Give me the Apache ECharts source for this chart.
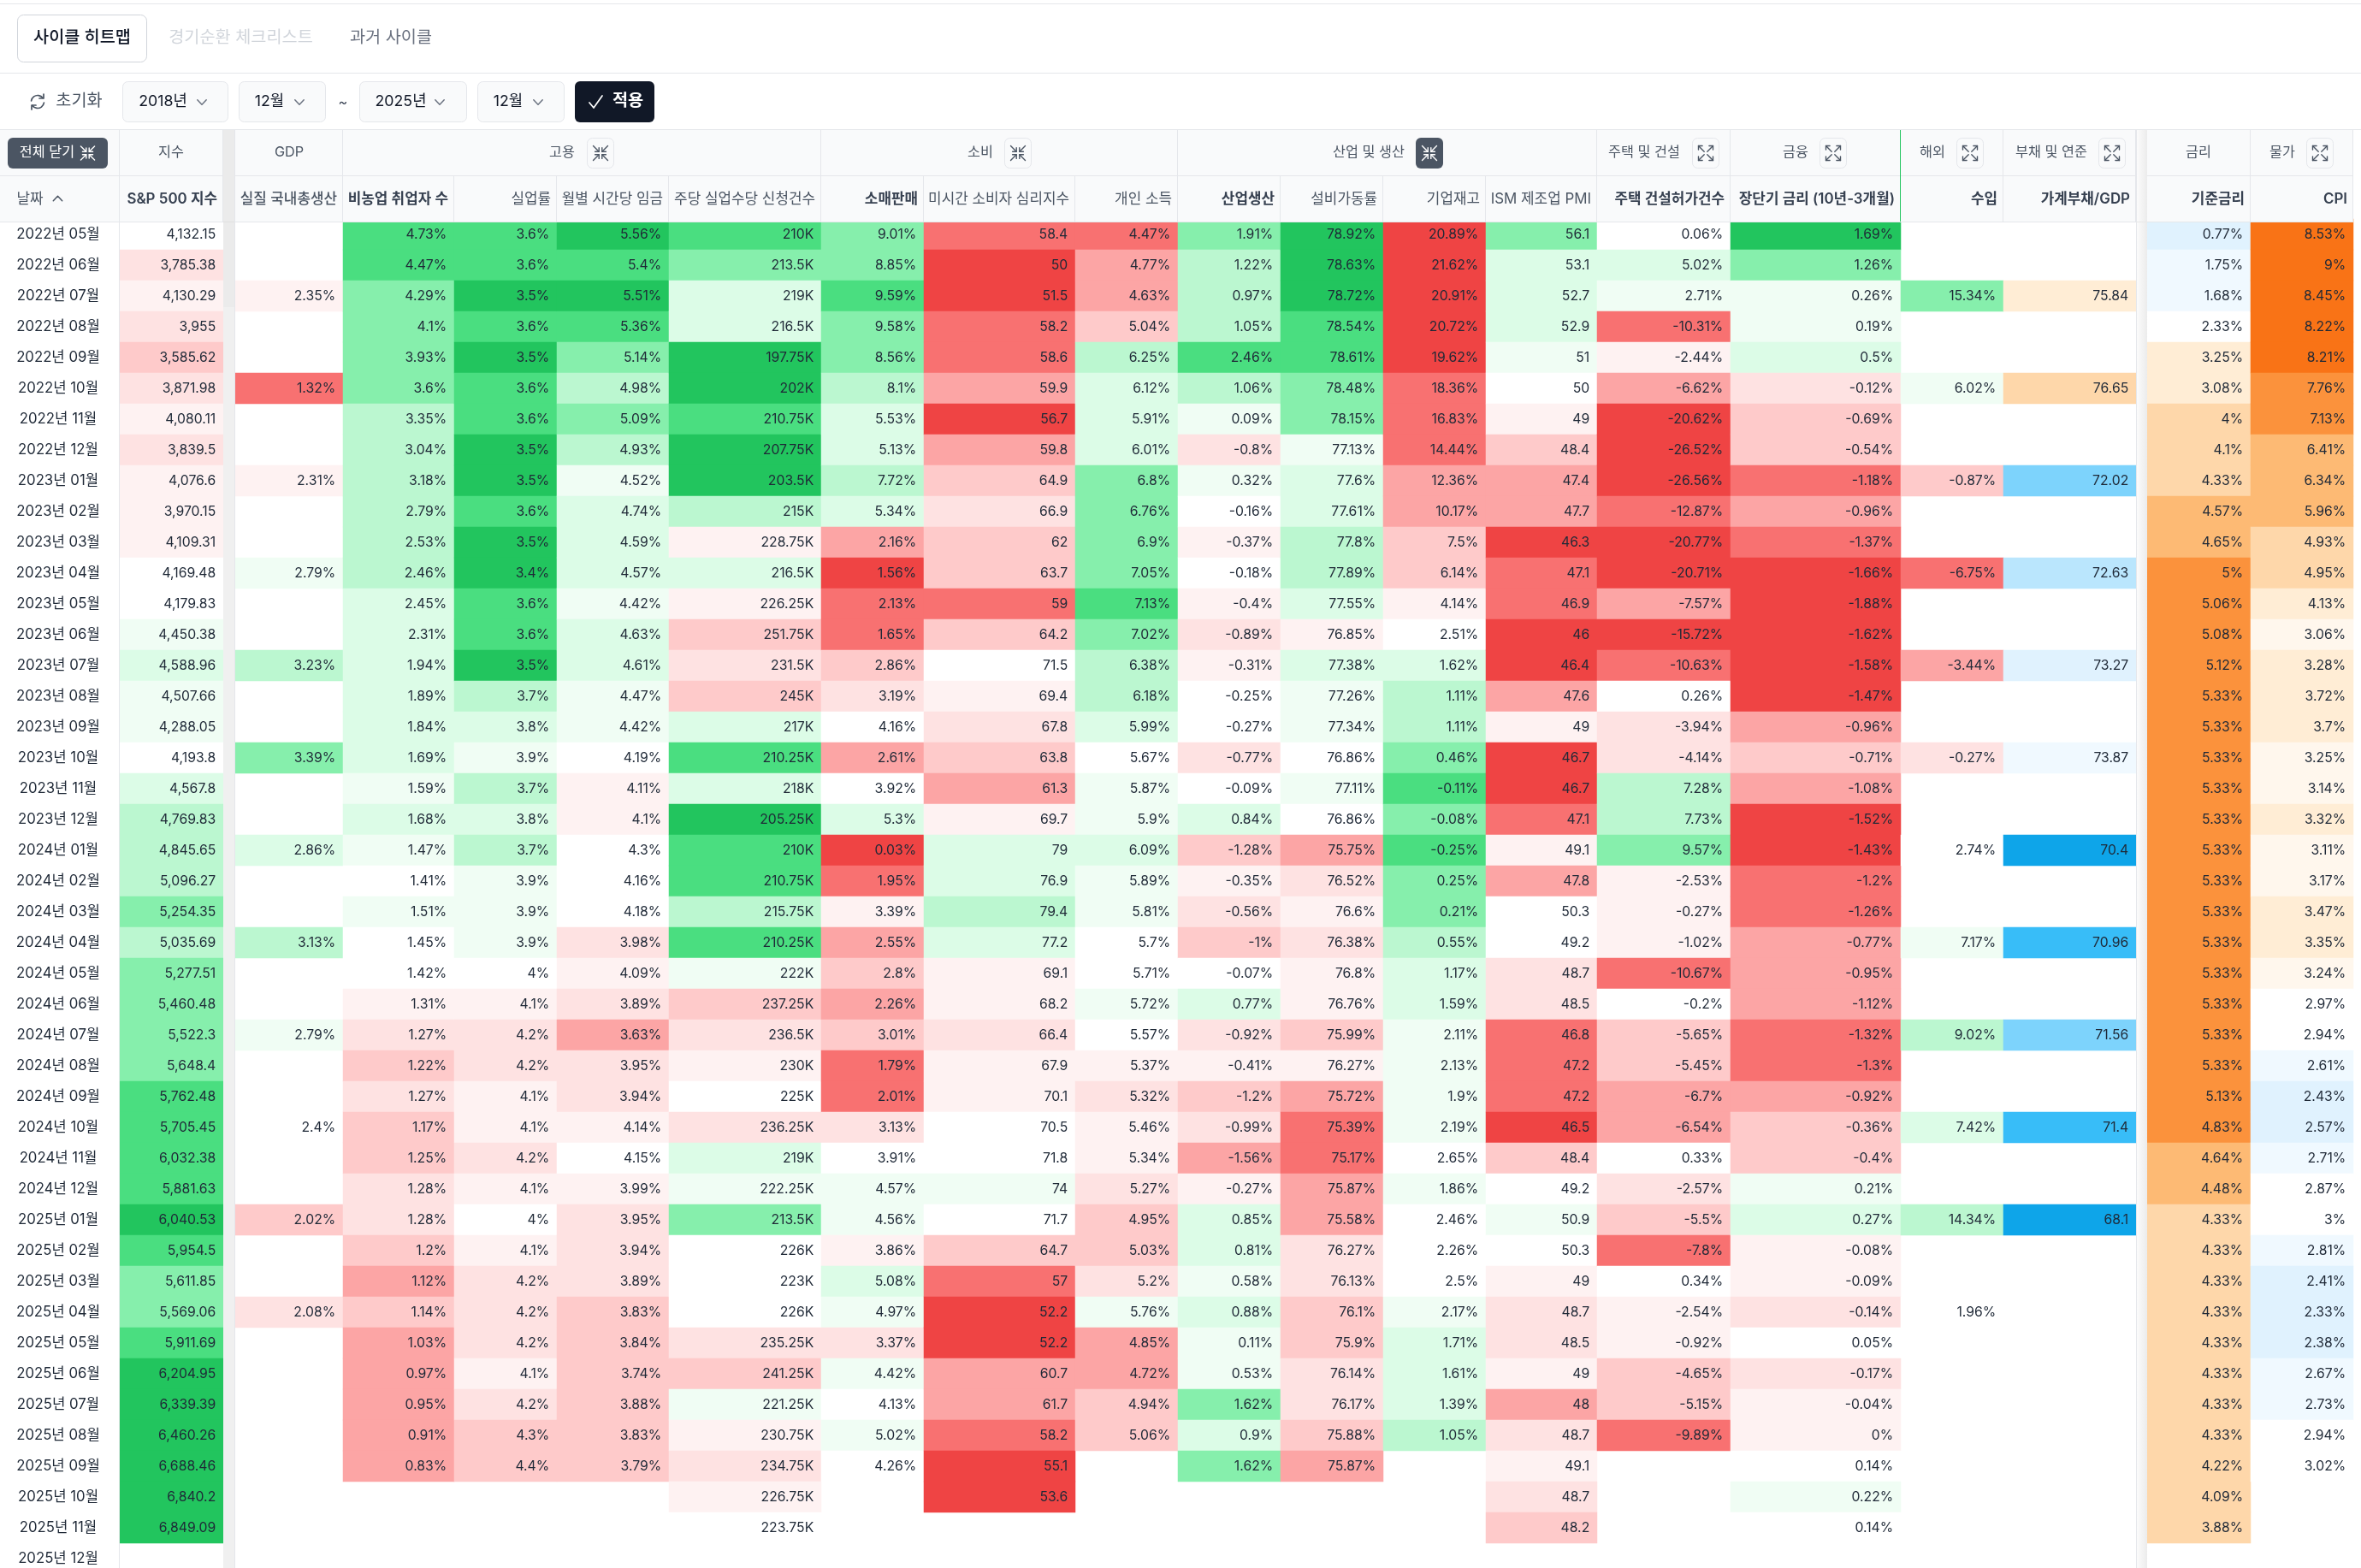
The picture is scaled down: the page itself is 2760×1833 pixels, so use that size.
<!DOCTYPE html>
<html lang="ko">
<head>
<meta charset="utf-8">
<title>사이클 히트맵</title>
<script src="https://cdn.jsdelivr.net/npm/echarts@6/dist/echarts.min.js"></script>
<style>
  html, body { margin: 0; padding: 0; background: #fff; width: 2760px; height: 1833px; overflow: hidden; }
  /* The table runs slightly past the fold, so the canvas is a little taller than the window */
  #chart { width: 2760px; height: 1840px; }
</style>
</head>
<body>
<div id="chart"></div>
<script>
// Months on the vertical axis
const months = [
  '2022년 05월','2022년 06월','2022년 07월','2022년 08월','2022년 09월','2022년 10월','2022년 11월','2022년 12월',
  '2023년 01월','2023년 02월','2023년 03월','2023년 04월','2023년 05월','2023년 06월','2023년 07월','2023년 08월',
  '2023년 09월','2023년 10월','2023년 11월','2023년 12월','2024년 01월','2024년 02월','2024년 03월','2024년 04월',
  '2024년 05월','2024년 06월','2024년 07월','2024년 08월','2024년 09월','2024년 10월','2024년 11월','2024년 12월',
  '2025년 01월','2025년 02월','2025년 03월','2025년 04월','2025년 05월','2025년 06월','2025년 07월','2025년 08월',
  '2025년 09월','2025년 10월','2025년 11월','2025년 12월'
];

const _ = null; // no reading for that month

// Indicator readings, one entry per month (trailing months may be absent)
const sp500 = [4132.15,3785.38,4130.29,3955,3585.62,3871.98,4080.11,3839.5,4076.6,3970.15,4109.31,4169.48,4179.83,4450.38,4588.96,4507.66,4288.05,4193.8,4567.8,4769.83,4845.65,5096.27,5254.35,5035.69,5277.51,5460.48,5522.3,5648.4,5762.48,5705.45,6032.38,5881.63,6040.53,5954.5,5611.85,5569.06,5911.69,6204.95,6339.39,6460.26,6688.46,6840.2,6849.09];
const gdp = [_,_,2.35,_,_,1.32,_,_,2.31,_,_,2.79,_,_,3.23,_,_,3.39,_,_,2.86,_,_,3.13,_,_,2.79,_,_,2.4,_,_,2.02,_,_,2.08];
const payrolls = [4.73,4.47,4.29,4.1,3.93,3.6,3.35,3.04,3.18,2.79,2.53,2.46,2.45,2.31,1.94,1.89,1.84,1.69,1.59,1.68,1.47,1.41,1.51,1.45,1.42,1.31,1.27,1.22,1.27,1.17,1.25,1.28,1.28,1.2,1.12,1.14,1.03,0.97,0.95,0.91,0.83];
const unemployment = [3.6,3.6,3.5,3.6,3.5,3.6,3.6,3.5,3.5,3.6,3.5,3.4,3.6,3.6,3.5,3.7,3.8,3.9,3.7,3.8,3.7,3.9,3.9,3.9,4,4.1,4.2,4.2,4.1,4.1,4.2,4.1,4,4.1,4.2,4.2,4.2,4.1,4.2,4.3,4.4];
const wages = [5.56,5.4,5.51,5.36,5.14,4.98,5.09,4.93,4.52,4.74,4.59,4.57,4.42,4.63,4.61,4.47,4.42,4.19,4.11,4.1,4.3,4.16,4.18,3.98,4.09,3.89,3.63,3.95,3.94,4.14,4.15,3.99,3.95,3.94,3.89,3.83,3.84,3.74,3.88,3.83,3.79];
const claims = [210,213.5,219,216.5,197.75,202,210.75,207.75,203.5,215,228.75,216.5,226.25,251.75,231.5,245,217,210.25,218,205.25,210,210.75,215.75,210.25,222,237.25,236.5,230,225,236.25,219,222.25,213.5,226,223,226,235.25,241.25,221.25,230.75,234.75,226.75,223.75];
const retail = [9.01,8.85,9.59,9.58,8.56,8.1,5.53,5.13,7.72,5.34,2.16,1.56,2.13,1.65,2.86,3.19,4.16,2.61,3.92,5.3,0.03,1.95,3.39,2.55,2.8,2.26,3.01,1.79,2.01,3.13,3.91,4.57,4.56,3.86,5.08,4.97,3.37,4.42,4.13,5.02,4.26];
const sentiment = [58.4,50,51.5,58.2,58.6,59.9,56.7,59.8,64.9,66.9,62,63.7,59,64.2,71.5,69.4,67.8,63.8,61.3,69.7,79,76.9,79.4,77.2,69.1,68.2,66.4,67.9,70.1,70.5,71.8,74,71.7,64.7,57,52.2,52.2,60.7,61.7,58.2,55.1,53.6];
const income = [4.47,4.77,4.63,5.04,6.25,6.12,5.91,6.01,6.8,6.76,6.9,7.05,7.13,7.02,6.38,6.18,5.99,5.67,5.87,5.9,6.09,5.89,5.81,5.7,5.71,5.72,5.57,5.37,5.32,5.46,5.34,5.27,4.95,5.03,5.2,5.76,4.85,4.72,4.94,5.06];
const production = [1.91,1.22,0.97,1.05,2.46,1.06,0.09,-0.8,0.32,-0.16,-0.37,-0.18,-0.4,-0.89,-0.31,-0.25,-0.27,-0.77,-0.09,0.84,-1.28,-0.35,-0.56,-1,-0.07,0.77,-0.92,-0.41,-1.2,-0.99,-1.56,-0.27,0.85,0.81,0.58,0.88,0.11,0.53,1.62,0.9,1.62];
const capacity = [78.92,78.63,78.72,78.54,78.61,78.48,78.15,77.13,77.6,77.61,77.8,77.89,77.55,76.85,77.38,77.26,77.34,76.86,77.11,76.86,75.75,76.52,76.6,76.38,76.8,76.76,75.99,76.27,75.72,75.39,75.17,75.87,75.58,76.27,76.13,76.1,75.9,76.14,76.17,75.88,75.87];
const inventories = [20.89,21.62,20.91,20.72,19.62,18.36,16.83,14.44,12.36,10.17,7.5,6.14,4.14,2.51,1.62,1.11,1.11,0.46,-0.11,-0.08,-0.25,0.25,0.21,0.55,1.17,1.59,2.11,2.13,1.9,2.19,2.65,1.86,2.46,2.26,2.5,2.17,1.71,1.61,1.39,1.05];
const pmi = [56.1,53.1,52.7,52.9,51,50,49,48.4,47.4,47.7,46.3,47.1,46.9,46,46.4,47.6,49,46.7,46.7,47.1,49.1,47.8,50.3,49.2,48.7,48.5,46.8,47.2,47.2,46.5,48.4,49.2,50.9,50.3,49,48.7,48.5,49,48,48.7,49.1,48.7,48.2];
const permits = [0.06,5.02,2.71,-10.31,-2.44,-6.62,-20.62,-26.52,-26.56,-12.87,-20.77,-20.71,-7.57,-15.72,-10.63,0.26,-3.94,-4.14,7.28,7.73,9.57,-2.53,-0.27,-1.02,-10.67,-0.2,-5.65,-5.45,-6.7,-6.54,0.33,-2.57,-5.5,-7.8,0.34,-2.54,-0.92,-4.65,-5.15,-9.89];
const yieldSpread = [1.69,1.26,0.26,0.19,0.5,-0.12,-0.69,-0.54,-1.18,-0.96,-1.37,-1.66,-1.88,-1.62,-1.58,-1.47,-0.96,-0.71,-1.08,-1.52,-1.43,-1.2,-1.26,-0.77,-0.95,-1.12,-1.32,-1.3,-0.92,-0.36,-0.4,0.21,0.27,-0.08,-0.09,-0.14,0.05,-0.17,-0.04,0,0.14,0.22,0.14];
const imports = [_,_,15.34,_,_,6.02,_,_,-0.87,_,_,-6.75,_,_,-3.44,_,_,-0.27,_,_,2.74,_,_,7.17,_,_,9.02,_,_,7.42,_,_,14.34,_,_,1.96];
const debtToGdp = [_,_,75.84,_,_,76.65,_,_,72.02,_,_,72.63,_,_,73.27,_,_,73.87,_,_,70.4,_,_,70.96,_,_,71.56,_,_,71.4,_,_,68.1];
const policyRate = [0.77,1.75,1.68,2.33,3.25,3.08,4,4.1,4.33,4.57,4.65,5,5.06,5.08,5.12,5.33,5.33,5.33,5.33,5.33,5.33,5.33,5.33,5.33,5.33,5.33,5.33,5.33,5.13,4.83,4.64,4.48,4.33,4.33,4.33,4.33,4.33,4.33,4.33,4.33,4.22,4.09,3.88];
const cpi = [8.53,9,8.45,8.22,8.21,7.76,7.13,6.41,6.34,5.96,4.93,4.95,4.13,3.06,3.28,3.72,3.7,3.25,3.14,3.32,3.11,3.17,3.47,3.35,3.24,2.97,2.94,2.61,2.43,2.57,2.71,2.87,3,2.81,2.41,2.33,2.38,2.67,2.73,2.94,3.02];

// Heat level of each cell: sign picks the hue family, size picks the shade
const sp500Level = [0,-2,-1,-2,-3,-2,-1,-2,-1,-1,-1,0,0,1,2,1,1,0,2,3,3,3,4,3,4,4,4,4,5,5,5,5,6,5,4,4,5,6,6,6,6,6,6];
const gdpLevel = [_,_,-1,_,_,-5,_,_,-1,_,_,1,_,_,3,_,_,4,_,_,2,_,_,3,_,_,1,_,_,0,_,_,-3,_,_,-2];
const payrollsLevel = [5,5,4,4,4,4,3,3,3,3,3,3,2,2,2,2,2,2,1,2,1,0,1,0,0,-1,-2,-3,-2,-3,-3,-2,-2,-3,-4,-3,-4,-4,-4,-4,-4];
const unemploymentLevel = [5,5,6,5,6,5,5,6,6,5,6,6,5,5,6,3,2,1,3,2,3,1,1,1,0,-1,-2,-2,-1,-1,-2,-1,0,-1,-2,-2,-2,-1,-2,-3,-3];
const wagesLevel = [6,5,6,5,4,3,4,3,1,2,2,2,1,2,2,1,1,0,-1,-1,0,0,0,-2,-1,-2,-4,-2,-2,-1,0,-1,-2,-2,-2,-3,-3,-3,-3,-3,-3];
const claimsLevel = [5,4,2,2,6,6,5,6,6,3,-1,2,-1,-3,-2,-3,2,5,2,6,5,5,3,5,1,-3,-2,-1,0,-2,2,1,4,0,0,0,-2,-3,1,-1,-2,-1,0];
const retailLevel = [4,4,5,4,4,3,2,2,3,2,-4,-6,-5,-5,-3,-2,0,-4,0,2,-6,-5,-1,-4,-3,-4,-3,-5,-5,-2,0,1,1,-1,2,1,-2,1,0,1,0];
const sentimentLevel = [-5,-6,-6,-5,-5,-4,-6,-4,-3,-2,-3,-3,-5,-3,0,-1,-2,-3,-4,-1,2,2,3,2,-1,-1,-2,-1,-1,0,0,1,0,-3,-5,-6,-6,-4,-4,-5,-6,-6];
const incomeLevel = [-5,-4,-4,-3,3,2,2,2,4,4,4,4,5,4,3,3,2,0,1,1,2,1,1,0,0,1,0,-1,-2,-1,-1,-2,-3,-3,-2,1,-4,-4,-3,-3];
const productionLevel = [4,3,3,3,5,3,1,-2,1,0,-1,0,-1,-2,-1,0,0,-2,0,2,-3,-1,-2,-3,0,2,-2,-1,-3,-2,-4,-1,2,2,1,2,1,1,4,2,4];
const capacityLevel = [6,6,6,5,5,4,4,1,2,2,3,3,2,-1,2,1,1,0,1,0,-4,-2,-1,-2,-1,-1,-3,-1,-4,-5,-5,-4,-4,-2,-2,-3,-3,-2,-2,-3,-4];
const inventoriesLevel = [-6,-6,-6,-6,-6,-5,-5,-5,-4,-4,-3,-3,-1,0,2,3,3,4,5,4,5,4,4,3,2,2,1,1,1,1,0,1,0,0,0,1,2,2,2,3];
const pmiLevel = [4,2,2,2,1,0,-1,-3,-4,-4,-6,-5,-5,-6,-6,-4,-1,-6,-6,-5,-1,-4,0,0,-2,-2,-5,-5,-5,-6,-3,0,1,0,-1,-2,-2,-1,-4,-2,-1,-2,-3];
const permitsLevel = [0,2,1,-5,-1,-4,-6,-6,-6,-5,-6,-6,-4,-6,-5,0,-2,-2,3,3,4,-1,-1,-1,-5,0,-3,-3,-4,-4,0,-2,-3,-5,0,-1,-1,-3,-3,-5];
const yieldSpreadLevel = [6,4,1,1,2,-2,-3,-3,-5,-4,-5,-6,-6,-6,-6,-6,-4,-3,-4,-6,-6,-5,-5,-4,-4,-4,-5,-5,-4,-3,-3,1,2,-1,-1,-2,0,-2,-1,-1,0,1,0];
const importsLevel = [_,_,4,_,_,1,_,_,-3,_,_,-5,_,_,-4,_,_,-2,_,_,0,_,_,1,_,_,3,_,_,2,_,_,3,_,_,0];
const debtToGdpLevel = [_,_,2,_,_,3,_,_,-4,_,_,-3,_,_,-2,_,_,-1,_,_,-6,_,_,-5,_,_,-4,_,_,-5,_,_,-6];
const policyRateLevel = [-2,-1,-1,0,2,2,3,3,3,4,4,5,5,5,5,5,5,5,5,5,5,5,5,5,5,5,5,5,5,5,4,4,3,3,3,3,3,3,3,3,3,3,3];
const cpiLevel = [6,6,6,6,6,5,5,4,4,4,3,3,2,1,2,2,2,1,1,2,1,1,2,2,1,0,0,-1,-2,-2,-1,0,0,-1,-2,-2,-2,-1,-1,0,0];

// Column titles
const columnNames = ['S&P 500 지수','실질 국내총생산','비농업 취업자 수','실업률','월별 시간당 임금','주당 실업수당 신청건수','소매판매','미시간 소비자 심리지수','개인 소득','산업생산','설비가동률','기업재고','ISM 제조업 PMI','주택 건설허가건수','장단기 금리 (10년-3개월)','수입','가계부채/GDP','기준금리','CPI'];
const columnValues = [sp500,gdp,payrolls,unemployment,wages,claims,retail,sentiment,income,production,capacity,inventories,pmi,permits,yieldSpread,imports,debtToGdp,policyRate,cpi];
const columnLevels = [sp500Level,gdpLevel,payrollsLevel,unemploymentLevel,wagesLevel,claimsLevel,retailLevel,sentimentLevel,incomeLevel,productionLevel,capacityLevel,inventoriesLevel,pmiLevel,permitsLevel,yieldSpreadLevel,importsLevel,debtToGdpLevel,policyRateLevel,cpiLevel];
const columnUnits = ['','%','%','%','%','K','%','','%','%','%','%','','%','%','%','','%','%'];

// Table geometry: horizontal extent of each column and the row pitch
const columnLeft  = [140,275,401,531,651,782,960,1080,1257,1377,1497,1617,1737,1867,2023,2222,2342,2510,2631];
const columnRight = [261,401,531,651,782,960,1080,1257,1377,1497,1617,1737,1867,2023,2222,2342,2497,2631,2751];
const tableTop = 256, rowHeight = 36;

// Emphasis of the column titles: 2 strong, 1 medium, 0 plain
const columnEmphasis = [2,1,2,0,0,0,2,0,0,2,0,0,0,2,2,2,2,2,2];

// Group header row: title, extent, title centre, toggle button (left edge, kind)
const groups = [
  { name: '지수',         from: 140,  to: 261,  cx: 200 },
  { name: 'GDP',          from: 275,  to: 401,  cx: 338 },
  { name: '고용',         from: 401,  to: 960,  cx: 657,  btn: 686,  kind: 'shrink' },
  { name: '소비',         from: 960,  to: 1377, cx: 1146, btn: 1174, kind: 'shrink' },
  { name: '산업 및 생산', from: 1377, to: 1867, cx: 1600, btn: 1655, kind: 'active' },
  { name: '주택 및 건설', from: 1867, to: 2023, cx: 1922, btn: 1978, kind: 'expand' },
  { name: '금융',         from: 2023, to: 2222, cx: 2099, btn: 2127, kind: 'expand' },
  { name: '해외',         from: 2222, to: 2342, cx: 2259, btn: 2287, kind: 'expand' },
  { name: '부채 및 연준', from: 2342, to: 2497, cx: 2398, btn: 2453, kind: 'expand' },
  { name: '금리',         from: 2510, to: 2631, cx: 2570 },
  { name: '물가',         from: 2631, to: 2751, cx: 2668, btn: 2696, kind: 'expand' }
];

// Shade ramps, index 1 (lightest) to 6 (strongest)
const greens  = ['#f0fdf4','#dcfce7','#bbf7d0','#86efac','#4ade80','#22c55e'];
const reds    = ['#fef2f2','#fee2e2','#fecaca','#fca5a5','#f87171','#ef4444'];
const oranges = ['#fff7ed','#ffedd5','#fed7aa','#fdba74','#fb923c','#f97316'];
const blues   = ['#f0f9ff','#e0f2fe','#bae6fd','#7dd3fc','#38bdf8','#0ea5e9'];

const FONT = 'Inter, "Noto Sans CJK KR", sans-serif';
const CELL_SIZE = 15.75;
const DATE_SIZE = 16.75;
const GROUP_SIZE = 16.25;
const TITLE_SIZE = 16.9;
const TEXT_DARK = '#1f2937';
const BORDER = '#e5e7eb';

function pieces(upRamp, downRamp) {
  const out = [{ value: 0, color: '#ffffff' }];
  for (let i = 1; i <= 6; i++) {
    out.push({ value: i, color: upRamp[i - 1] });
    out.push({ value: -i, color: downRamp[i - 1] });
  }
  return out;
}

function formatValue(v, unit) {
  return v.toLocaleString('en-US', { maximumFractionDigits: 2 }) + unit;
}

// One grid, axis pair and heatmap series per column
const grids = [], xAxes = [], yAxes = [], series = [];
columnNames.forEach((name, i) => {
  grids.push({
    left: columnLeft[i],
    width: columnRight[i] - columnLeft[i],
    top: tableTop,
    height: rowHeight * months.length,
    containLabel: false
  });
  xAxes.push({ type: 'category', gridIndex: i, data: [name], show: false });
  yAxes.push({
    type: 'category', gridIndex: i, data: months, inverse: true, show: i === 0,
    axisLine: { show: false }, axisTick: { show: false }, splitLine: { show: false },
    axisLabel: i === 0 ? {
      show: true, interval: 0, align: 'center', margin: 72,
      fontFamily: FONT, fontSize: DATE_SIZE, color: TEXT_DARK
    } : { show: false }
  });
  const unit = columnUnits[i];
  const cells = [];
  columnValues[i].forEach((v, row) => {
    if (v !== null) cells.push([0, row, v, columnLevels[i][row]]);
  });
  series.push({
    type: 'heatmap',
    name,
    xAxisIndex: i,
    yAxisIndex: i,
    dimensions: ['column', 'month', 'value', 'level'],
    encode: { x: 0, y: 1, value: 2 },
    data: cells,
    progressive: 0,
    itemStyle: { borderWidth: 0 },
    emphasis: { disabled: true },
    label: {
      show: true,
      position: 'insideRight',
      distance: 9,
      fontFamily: FONT,
      fontSize: CELL_SIZE,
      color: TEXT_DARK,
      formatter: p => formatValue(p.value[2], unit)
    }
  });
});

// Page furniture around the table, all drawn as graphic elements above the marks
const els = [];
const Z = 10;
function box(x, y, w, h, fill, stroke, r, z) {
  els.push({
    type: 'rect', z: z || Z,
    shape: { x: stroke ? x + 0.5 : x, y: stroke ? y + 0.5 : y, width: stroke ? w - 1 : w, height: stroke ? h - 1 : h, r: r || 0 },
    style: { fill: fill, stroke: stroke || null, lineWidth: stroke ? 1 : 0 }
  });
}
function label(text, x, y, opts) {
  const o = opts || {};
  els.push({
    type: 'text', z: Z + 2,
    style: {
      text, x, y,
      fontFamily: FONT,
      fontSize: o.size || GROUP_SIZE,
      fontWeight: o.weight || 400,
      fill: o.color || '#4b5563',
      align: o.align || 'center',
      verticalAlign: 'middle'
    }
  });
}
function stroke(points, color, width, z) {
  els.push({
    type: 'polyline', z: z || Z + 2,
    shape: { points },
    style: { stroke: color, lineWidth: width || 1.4, fill: null, lineCap: 'round', lineJoin: 'round' }
  });
}
function chevron(cx, cy, up, color) {
  const d = up ? -2.7 : 2.7;
  stroke([[cx - 5.2, cy - d], [cx, cy + d], [cx + 5.2, cy - d]], color, 1.5);
}
// Four corner arrows, pointing in or out of the centre
function cornerArrows(cx, cy, inward, color, s) {
  [[-1, -1], [1, -1], [-1, 1], [1, 1]].forEach(([sx, sy]) => {
    const a = 1.8 * s, b = 8.5 * s, h = 4.6 * s;
    if (inward) {
      stroke([[cx + sx * b, cy + sy * b], [cx + sx * a, cy + sy * a]], color);
      stroke([[cx + sx * a, cy + sy * (a + h)], [cx + sx * a, cy + sy * a], [cx + sx * (a + h), cy + sy * a]], color);
    } else {
      stroke([[cx + sx * a, cy + sy * a], [cx + sx * b, cy + sy * b]], color);
      stroke([[cx + sx * b, cy + sy * (b - h)], [cx + sx * b, cy + sy * b], [cx + sx * (b - h), cy + sy * b]], color);
    }
  });
}

// Tabs
box(0, 4, 2760, 1, BORDER);
box(20, 17, 152, 56, '#ffffff', '#d1d5db', 7);
label('사이클 히트맵', 96, 44.5, { size: 19.7, color: '#111827', weight: 500 });
label('경기순환 체크리스트', 281.5, 44.5, { size: 19.7, color: '#d1d5db' });
label('과거 사이클', 457, 44.5, { size: 19.7, color: '#6b7280' });
box(0, 85, 2760, 1, BORDER);

// Date range filter
els.push({
  type: 'arc', z: Z + 2,
  shape: { cx: 44, cy: 119, r: 7.5, startAngle: Math.PI * 1.05, endAngle: Math.PI * 1.8 },
  style: { stroke: '#4b5563', lineWidth: 1.7, fill: null, lineCap: 'round' }
});
els.push({
  type: 'arc', z: Z + 2,
  shape: { cx: 44, cy: 119, r: 7.5, startAngle: Math.PI * 0.05, endAngle: Math.PI * 0.8 },
  style: { stroke: '#4b5563', lineWidth: 1.7, fill: null, lineCap: 'round' }
});
stroke([[51, 110], [51, 115], [46, 115]], '#4b5563', 1.7);
stroke([[37, 128], [37, 123], [42, 123]], '#4b5563', 1.7);
label('초기화', 92.5, 118.5, { size: 19.7 });
[
  { x: 143, w: 124, text: '2018년', tx: 190.5, cx: 236 },
  { x: 279, w: 102, text: '12월', tx: 315, cx: 350 },
  { x: 420, w: 126, text: '2025년', tx: 468.5, cx: 514 },
  { x: 558, w: 102, text: '12월', tx: 594, cx: 629 }
].forEach(s => {
  box(s.x, 95, s.w, 48, '#f9fafb', BORDER, 6);
  label(s.text, s.tx, 118.5, { color: '#111827', size: 17.75 });
  chevron(s.cx, 119.5, false, '#6b7280');
});
label('~', 401, 120, { color: '#374151' });
box(672, 95, 93, 48, '#111827', null, 6);
stroke([[689, 120], [694, 126], [704, 112]], '#ffffff', 1.7);
label('적용', 734, 118.5, { color: '#ffffff', weight: 700, size: 19.7 });

// Separators beside the frozen columns
box(261, 152, 13, 207, '#ebebeb');
box(261, 359, 13, 1481, '#f0f0f0');
box(274, 152, 1, 1688, BORDER);
box(2497, 152, 1, 1688, BORDER);
els.push({
  type: 'rect', z: Z,
  shape: { x: 2498, y: 152, width: 12, height: 1688 },
  style: {
    fill: { type: 'linear', x: 0, y: 0, x2: 1, y2: 0, colorStops: [{ offset: 0, color: '#fbfbfb' }, { offset: 1, color: '#ececec' }] }
  }
});
box(139, 259, 1, 1581, BORDER);

// Header band
[[0, 261], [275, 2222 - 275], [2222, 2497 - 2222], [2510, 241]].forEach(([x, w]) => box(x, 152, w, 107, '#f9fafb'));
box(0, 151, 2760, 1, BORDER);
[[0, 261], [275, 2222], [2510, 241]].forEach(([x, w]) => {
  const width = x === 275 ? 2497 - 275 : w;
  box(x, 205, width, 1, BORDER);
  box(x, 259, width, 1, BORDER);
});
box(139, 152, 1, 107, BORDER);
box(261, 259, 13, 1, '#e0e0e0');
box(2498, 259, 12, 1, '#e8e8e8');

// Group row
box(9, 161, 117, 36, '#4b5563', null, 6);
label('전체 닫기', 55, 178.5, { color: '#ffffff' });
cornerArrows(102.5, 179, true, '#ffffff', 0.95);
groups.forEach(g => {
  box(g.to - 1, 152, 1, 53, BORDER);
  label(g.name, g.cx, 178.5);
  if (g.btn !== undefined) {
    const active = g.kind === 'active';
    box(g.btn, 161, 32, 36, active ? '#4b5563' : '#f9fafb', active ? null : BORDER, 6);
    cornerArrows(g.btn + 16, 179, g.kind !== 'expand', active ? '#ffffff' : '#4b5563', 1);
  }
});

// Column title row
label('날짜', 35, 232.5, { align: 'center', size: TITLE_SIZE });
chevron(67.5, 232, true, '#4b5563');
columnNames.forEach((name, i) => {
  const e = columnEmphasis[i];
  box(columnRight[i] - 1, 206, 1, 53, BORDER);
  label(name, columnRight[i] - 7, 232.5, {
    align: 'right',
    size: TITLE_SIZE,
    weight: e === 2 ? 600 : (e === 1 ? 500 : 400),
    color: e === 2 ? '#374151' : '#4b5563'
  });
});
box(2221, 152, 1, 107, '#22c55e');

const chart = echarts.init(document.getElementById('chart'));
chart.setOption({
  animation: false,
  backgroundColor: '#ffffff',
  grid: grids,
  xAxis: xAxes,
  yAxis: yAxes,
  visualMap: [
    {
      type: 'piecewise', show: false, dimension: 3,
      seriesIndex: [0,1,2,3,4,5,6,7,8,9,10,11,12,13,14,15],
      pieces: pieces(greens, reds)
    },
    {
      type: 'piecewise', show: false, dimension: 3,
      seriesIndex: [16,17,18],
      pieces: pieces(oranges, blues)
    }
  ],
  series,
  graphic: { elements: els }
});
</script>
</body>
</html>
